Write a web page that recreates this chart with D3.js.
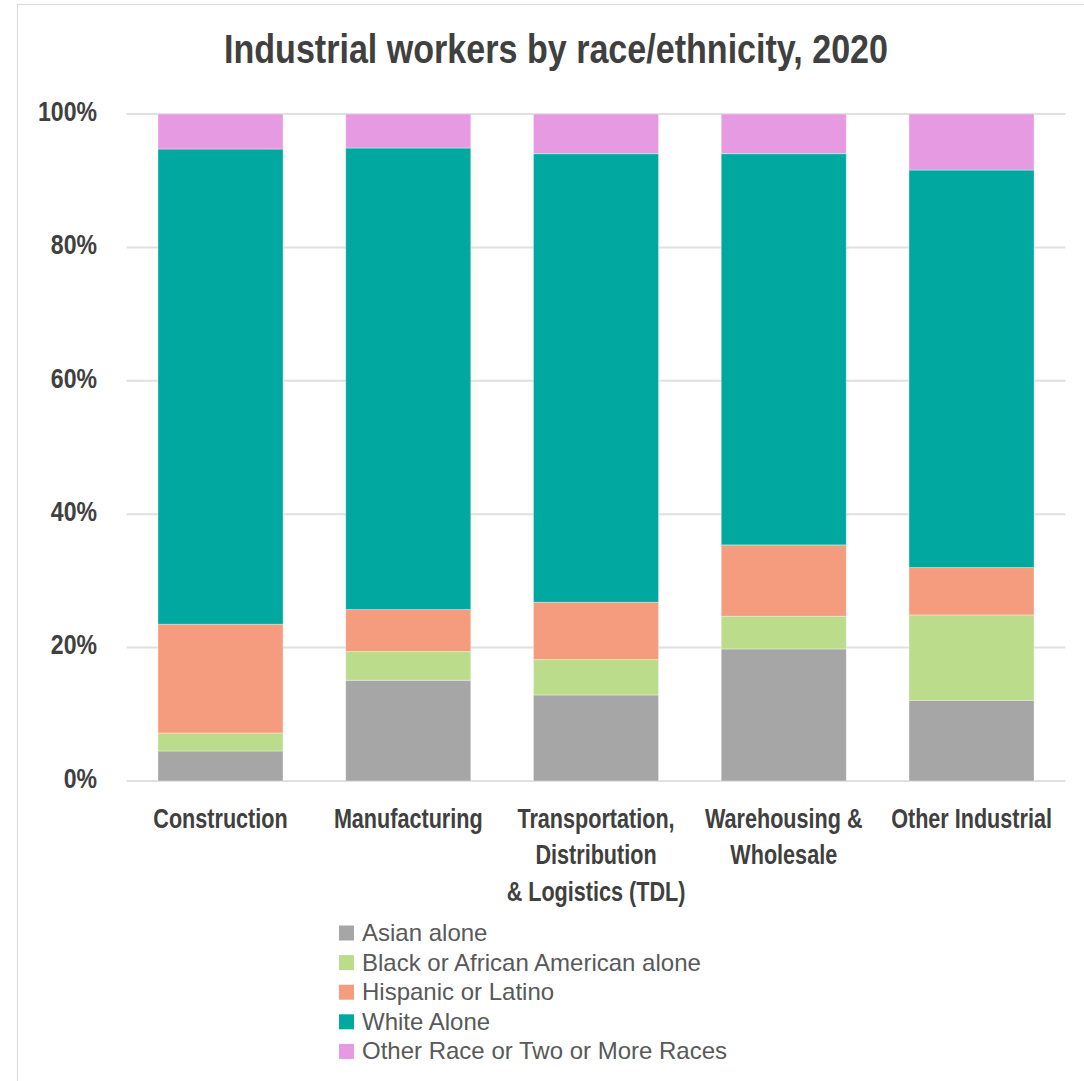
<!DOCTYPE html>
<html>
<head>
<meta charset="utf-8">
<script src="https://cdn.jsdelivr.net/npm/d3@7/dist/d3.min.js"></script>
<style>
  html, body { margin: 0; padding: 0; background: #fff; }
  svg { display: block; }
</style>
</head>
<body>
<svg id="chart" width="1084" height="1081"></svg>
<script>
// ---- Data ----
const categories = ["Construction", "Manufacturing", "TDL", "Warehousing", "Other Industrial"];
const categoryLabels = [
  ["Construction"],
  ["Manufacturing"],
  ["Transportation,", "Distribution", "& Logistics (TDL)"],
  ["Warehousing &", "Wholesale"],
  ["Other Industrial"]
];
const seriesNames = ["Asian alone", "Black or African American alone", "Hispanic or Latino", "White Alone", "Other Race or Two or More Races"];
const asianAlone    = [4.5, 15.1, 12.9, 19.8, 12.1];
const blackAlone    = [2.7, 4.3, 5.3, 4.9, 12.8];
const hispanicLatino= [16.3, 6.3, 8.6, 10.7, 7.1];
const whiteAlone    = [71.25, 69.2, 67.25, 58.65, 59.6];
const otherRace     = [5.25, 5.1, 5.95, 5.95, 8.4];
const yTicks = [0, 20, 40, 60, 80, 100];
const title = "Industrial workers by race/ethnicity, 2020";

// ---- Styles ----
const colors = ["#a6a6a6", "#bbdd8b", "#f59c7e", "#00a8a0", "#e59ae2"];
const boldFont = "'Liberation Sans Narrow', 'Liberation Sans', Arial, sans-serif";
const regFont = "'Liberation Sans', Arial, sans-serif";
const condense = 0.80;   // horizontal squeeze to mimic a condensed bold face

const seriesValues = [asianAlone, blackAlone, hispanicLatino, whiteAlone, otherRace];
const table = categories.map((c, i) => {
  const row = { category: c };
  seriesNames.forEach((s, j) => row[s] = seriesValues[j][i]);
  return row;
});

const svg = d3.select("#chart");

// frame
svg.append("rect")
  .attr("x", 17.5).attr("y", 4.5).attr("width", 1200).attr("height", 1200)
  .attr("fill", "none").attr("stroke", "#d9d9d9").attr("stroke-width", 1);

const x = d3.scaleBand().domain(categories).range([126.6, 1065.4])
  .paddingInner(0.334).paddingOuter(0.167);
const y = d3.scaleLinear().domain([0, 100]).range([781, 114]);

// gridlines
svg.append("g").selectAll("line").data(yTicks).join("line")
  .attr("x1", 126.6).attr("x2", 1065.4)
  .attr("y1", d => y(d)).attr("y2", d => y(d))
  .attr("stroke", "#e0e0e0").attr("stroke-width", 2);

// y axis labels
const yAxis = d3.axisLeft(y).tickValues(yTicks).tickFormat(d => d + "%").tickSize(0).tickPadding(0);
const yg = svg.append("g").attr("transform", "translate(97,0)").call(yAxis);
yg.select(".domain").remove();
yg.selectAll("text")
  .attr("font-family", boldFont).attr("font-weight", "bold")
  .attr("font-size", 27).attr("fill", "#404040").attr("dy", "0.23em")
  .attr("transform", "scale(0.855,1)");

// stacked bars
const stack = d3.stack().keys(seriesNames)(table);
svg.append("g").selectAll("g").data(stack).join("g")
  .attr("fill", (d, i) => colors[i])
  .selectAll("rect").data(d => d).join("rect")
  .attr("x", d => x(d.data.category))
  .attr("width", x.bandwidth())
  .attr("y", d => y(d[1]))
  .attr("height", d => y(d[0]) - y(d[1]))
  .attr("stroke", "#ffffff").attr("stroke-opacity", 0.35).attr("stroke-width", 1);

// x category labels
const xl = svg.append("g");
categories.forEach((c, i) => {
  const cx = x(c) + x.bandwidth() / 2;
  const t = xl.append("text")
    .attr("transform", `translate(${cx},827.5) scale(${condense},1)`)
    .attr("text-anchor", "middle")
    .attr("font-family", boldFont).attr("font-weight", "bold")
    .attr("font-size", 27).attr("fill", "#404040");
  categoryLabels[i].forEach((line, k) => {
    t.append("tspan").attr("x", 0).attr("dy", k === 0 ? 0 : 37).text(line);
  });
});

// title
svg.append("text")
  .attr("x", 556).attr("y", 63)
  .attr("text-anchor", "middle")
  .attr("font-family", boldFont).attr("font-weight", "bold")
  .attr("font-size", 40).attr("fill", "#404040")
  .attr("textLength", 664).attr("lengthAdjust", "spacingAndGlyphs")
  .text(title);

// legend
const legend = svg.append("g").attr("transform", "translate(339,933)");
const items = legend.selectAll("g").data(seriesNames).join("g")
  .attr("transform", (d, i) => `translate(0,${i * 29.6})`);
items.append("rect").attr("x", 0).attr("y", -7.5).attr("width", 15).attr("height", 15)
  .attr("fill", (d, i) => colors[i]);
items.append("text").attr("x", 23).attr("y", 8)
  .attr("font-family", regFont).attr("font-size", 24).attr("fill", "#595959")
  .text(d => d);
</script>
</body>
</html>
